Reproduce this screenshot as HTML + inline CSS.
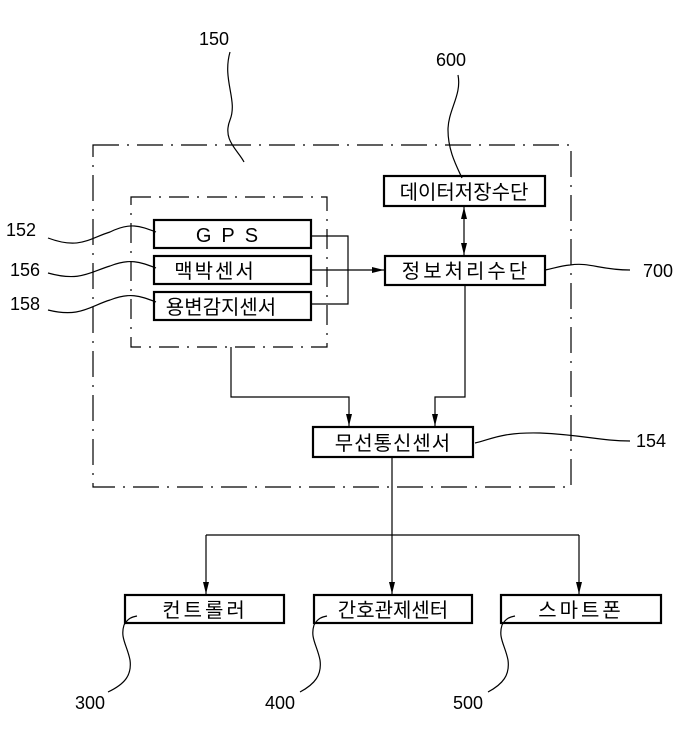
<!DOCTYPE html>
<html><head><meta charset="utf-8"><style>
html,body{margin:0;padding:0;background:#fff;}
svg text{font-family:"Liberation Sans","Noto Sans CJK KR","NanumGothic",sans-serif;fill:#000;}
</style></head><body>
<svg width="696" height="738" viewBox="0 0 696 738" xmlns="http://www.w3.org/2000/svg">
<defs>
<marker id="a" markerWidth="13" markerHeight="8" refX="12" refY="4" orient="auto-start-reverse" markerUnits="userSpaceOnUse">
<path d="M0,1 L12,4 L0,7 Z" fill="#000"/></marker>
</defs>
<g fill="none" stroke="#000" stroke-width="1.2">
<rect x="93" y="145" width="478" height="342" stroke-dasharray="26,8,2,8"/>
<rect x="131" y="197" width="196" height="150" stroke-dasharray="20,8,2,8"/>
</g>
<g fill="#fff" stroke="#000" stroke-width="2.2">
<rect x="154" y="220" width="157" height="28"/>
<rect x="154" y="256" width="157" height="28"/>
<rect x="154" y="292" width="157" height="28"/>
<rect x="384" y="176" width="161" height="30"/>
<rect x="385" y="256" width="160" height="29"/>
<rect x="313" y="427" width="160" height="30"/>
<rect x="125" y="595" width="159" height="28"/>
<rect x="314" y="595" width="158" height="28"/>
<rect x="501" y="595" width="160" height="28"/>
</g>
<g fill="none" stroke="#000" stroke-width="1.2">
<path d="M311,236 H348 V304 H311"/>
<path d="M311,270 H384" marker-end="url(#a)"/>
<path d="M464,207 V255" marker-start="url(#a)" marker-end="url(#a)"/>
<path d="M465,285 V397 H435 V426" marker-end="url(#a)"/>
<path d="M231,347 V397 H349 V426" marker-end="url(#a)"/>
<path d="M392,457 V594" marker-end="url(#a)"/>
<path d="M206,535 H579"/>
<path d="M206,535 V594" marker-end="url(#a)"/>
<path d="M579,535 V594" marker-end="url(#a)"/>
<path d="M230,52 C222,80 238,100 230,120 C222,140 238,150 244,162"/>
<path d="M458,75 C462,95 448,110 448,130 C448,150 456,165 462,178"/>
<path d="M48,238 C80,250 90,238 110,232 C130,222 140,226 156,232"/>
<path d="M48,273 C80,282 90,272 110,266 C130,258 140,262 156,268"/>
<path d="M48,310 C80,318 90,306 110,300 C130,292 140,296 156,302"/>
<path d="M630,270 C600,270 590,262 570,265 C560,266 555,268 545,270"/>
<path d="M630,441 C600,441 585,435 540,433 C500,432 490,440 475,443"/>
<path d="M108,692 C125,684 132,675 130,660 C127,645 120,638 124,625 C128,618 132,617 137,616"/>
<path d="M300,692 C315,684 322,675 320,660 C317,645 310,638 314,625 C318,618 322,617 327,616"/>
<path d="M488,692 C503,684 510,675 508,660 C505,645 498,638 502,625 C506,618 510,617 515,616"/>
</g>
<g font-size="18">
<text x="199" y="45">150</text>
<text x="436" y="66">600</text>
<text x="6" y="236">152</text>
<text x="10" y="276">156</text>
<text x="10" y="310">158</text>
<text x="643" y="277">700</text>
<text x="636" y="447">154</text>
<text x="75" y="709">300</text>
<text x="265" y="709">400</text>
<text x="453" y="709">500</text>
</g>
<g font-size="20" text-anchor="middle">
<text x="232" y="242" letter-spacing="10">GPS</text>
<text x="215" y="278" letter-spacing="2">맥박센서</text>
<text x="221" y="314" letter-spacing="0">용변감지센서</text>
<text x="464" y="199">데이터저장수단</text>
<text x="466" y="278" letter-spacing="3">정보처리수단</text>
<text x="393" y="450" letter-spacing="1">무선통신센서</text>
<text x="205" y="617" letter-spacing="3">컨트롤러</text>
<text x="393" y="617">간호관제센터</text>
<text x="581" y="617" letter-spacing="3">스마트폰</text>
</g>
</svg>
</body></html>
